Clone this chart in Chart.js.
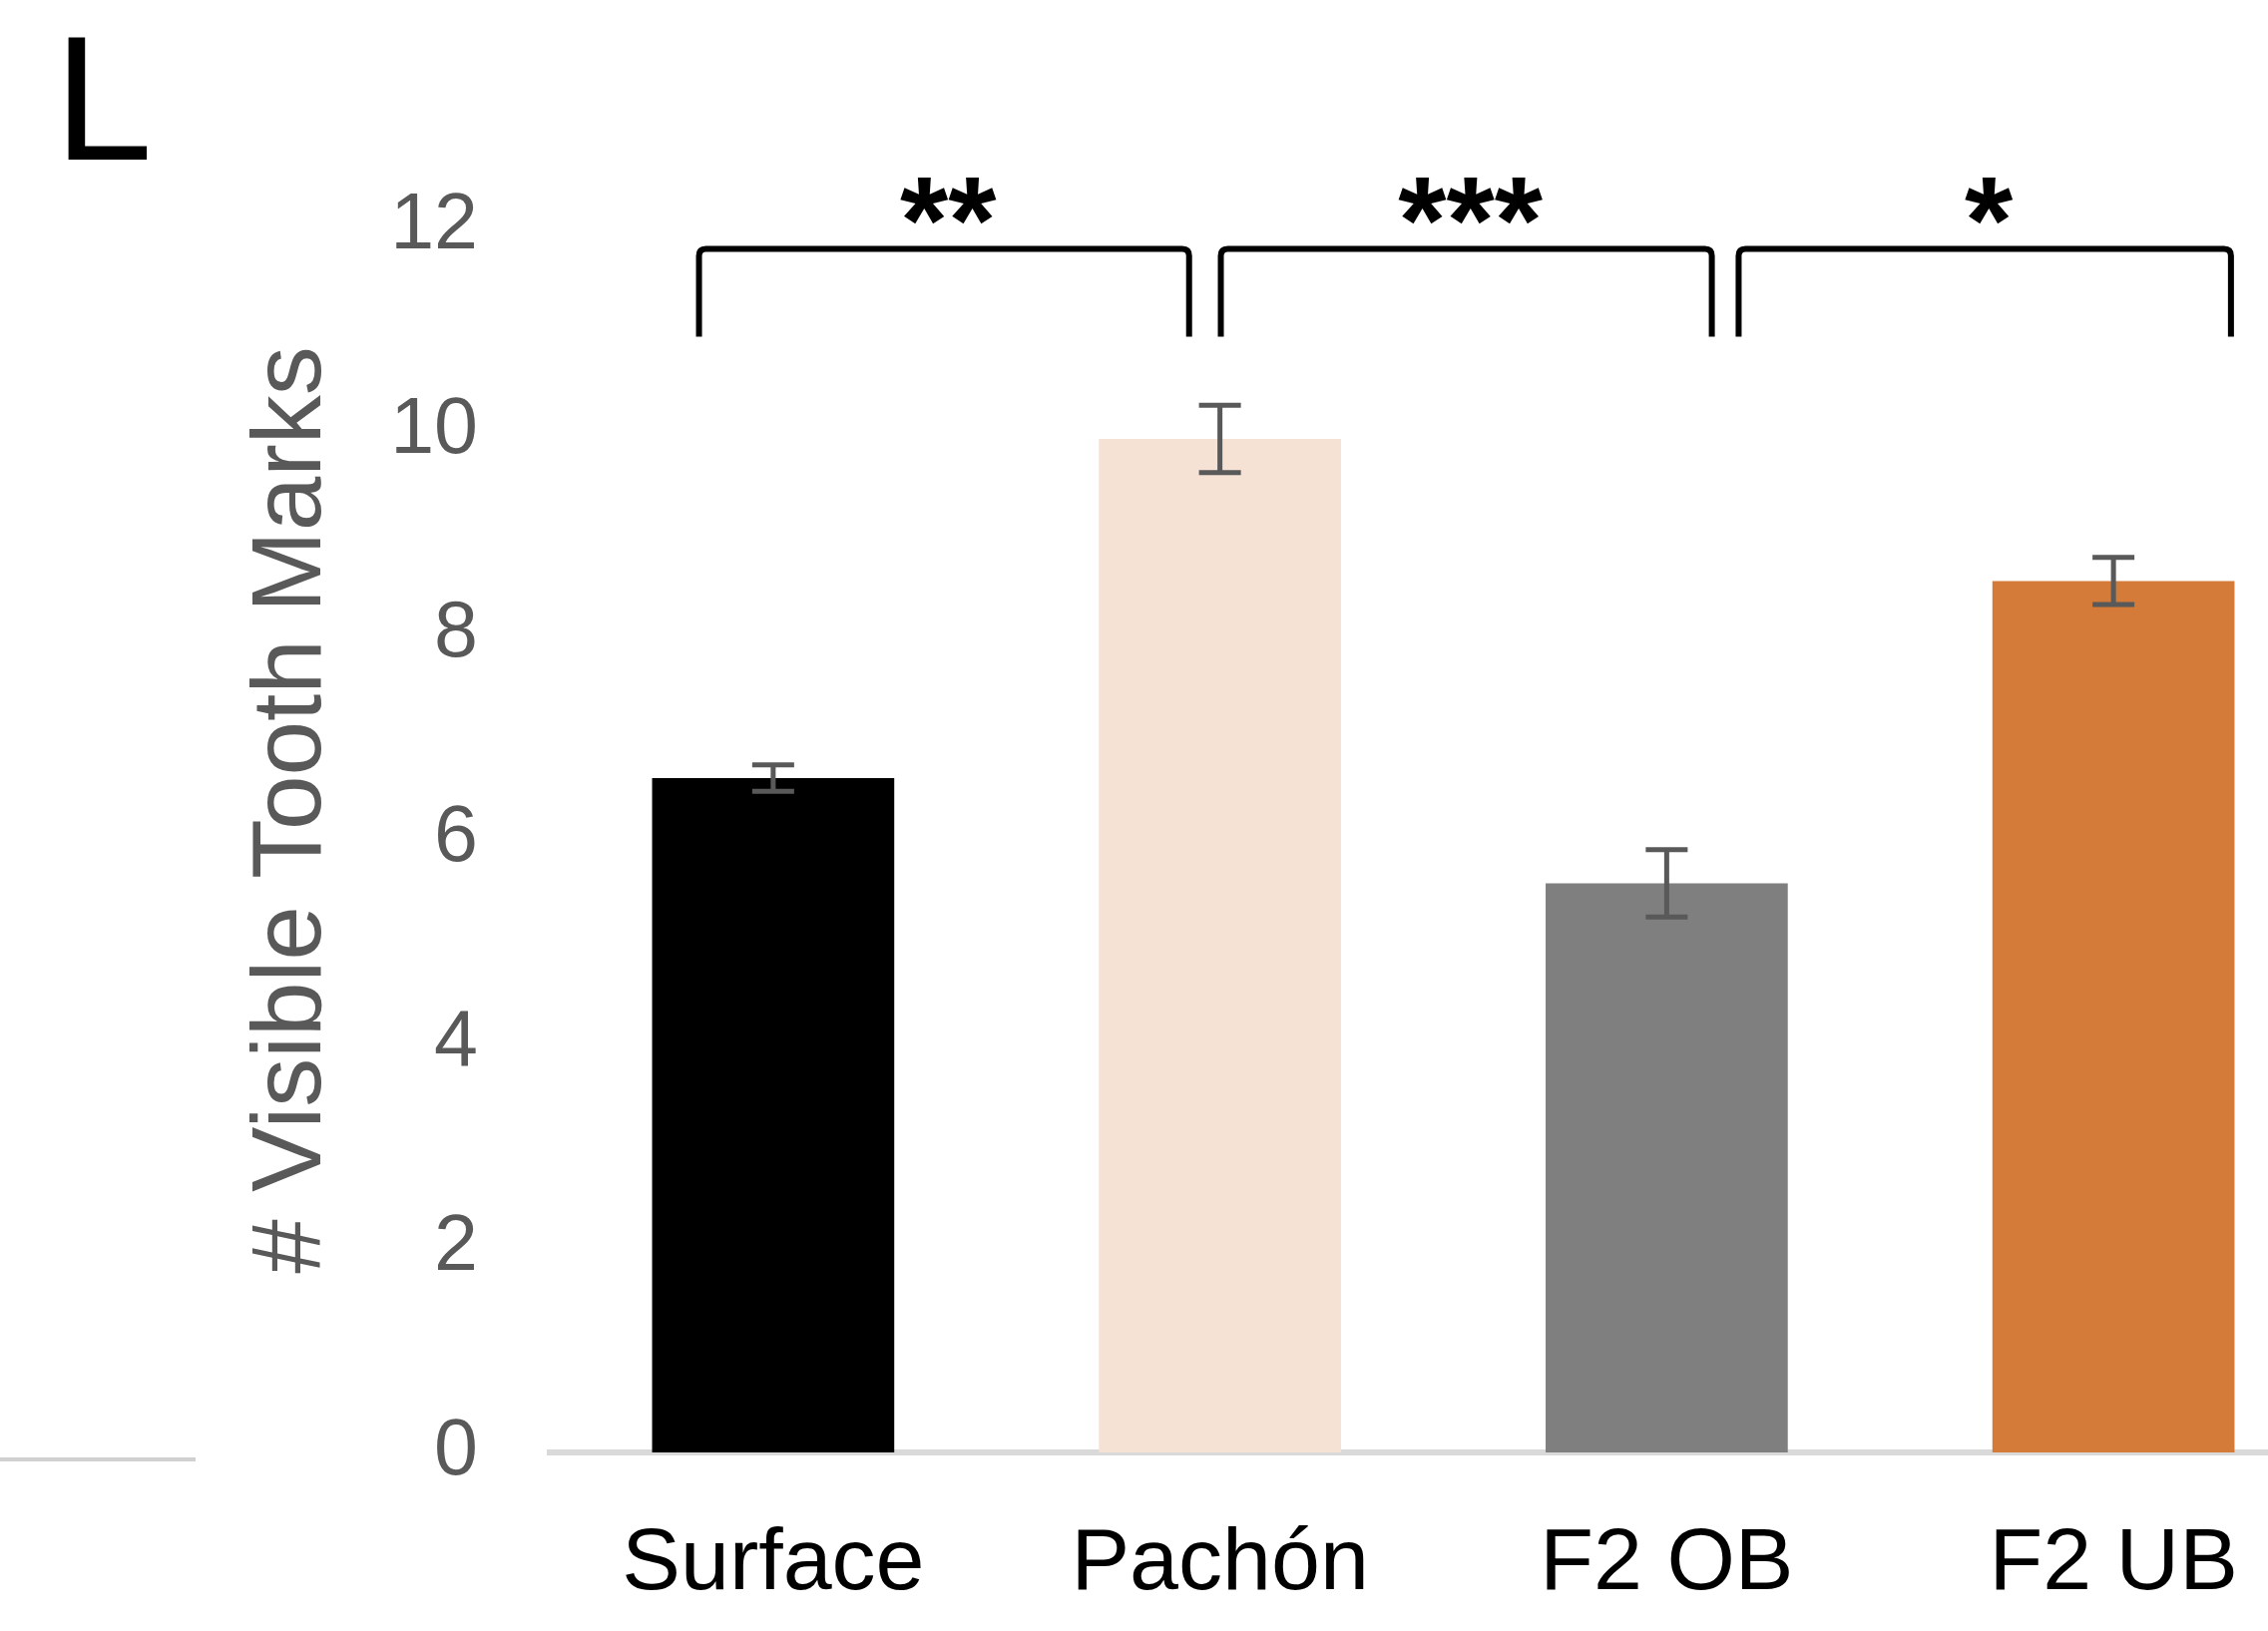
<!DOCTYPE html>
<html>
<head>
<meta charset="utf-8">
<title>Visible Tooth Marks</title>
<script src="https://cdn.jsdelivr.net/npm/chart.js@4.4.1/dist/chart.umd.min.js"></script>
<style>
  html, body { margin: 0; padding: 0; background: #fff; overflow: hidden; }
  #wrap { width: 2345px; height: 1635px; }
</style>
</head>
<body>
<div id="wrap"><canvas id="teeth" width="2345" height="1635"></canvas></div>
<script>
// values
const categories = ['Surface', 'Pachón', 'F2 OB', 'F2 UB'];
const meanMarks = [6.6, 9.92, 5.57, 8.53];
const semMarks = [0.13, 0.33, 0.33, 0.23];
const barColors = ['#000000', '#f5e2d5', '#7f7f7f', '#d57b3a'];
const yTicks = [0, 2, 4, 6, 8, 10, 12];
const comparisons = [[0, 1], [1, 2], [2, 3]];
const sigLabels = ['**', '***', '*'];

const FONT = '"Liberation Sans", Arial, sans-serif';
const GREY_TEXT = '#595959';

// where the brackets sit, in category units relative to the compared bars
const bracketStyle = {
  offsets: [[-0.166, -0.069], [0.002, 0.101], [0.161, 0.263]],
  top: 11.78,
  foot: 10.92,
  starY: 12.25,
  width: 6
};

// error bars, brackets, title, panel letter
const extras = {
  id: 'extras',
  afterDatasetsDraw(chart) {
    const ctx = chart.ctx;
    const y = chart.scales.y;
    const meta = chart.getDatasetMeta(0);
    ctx.save();
    ctx.strokeStyle = GREY_TEXT;
    ctx.lineWidth = 5;
    meta.data.forEach((bar, i) => {
      const hi = y.getPixelForValue(meanMarks[i] + semMarks[i]);
      const lo = y.getPixelForValue(meanMarks[i] - semMarks[i]);
      ctx.beginPath();
      ctx.moveTo(bar.x, hi); ctx.lineTo(bar.x, lo);
      ctx.moveTo(bar.x - 21, hi); ctx.lineTo(bar.x + 21, hi);
      ctx.moveTo(bar.x - 21, lo); ctx.lineTo(bar.x + 21, lo);
      ctx.stroke();
    });
    ctx.restore();
  },
  afterDraw(chart) {
    const ctx = chart.ctx;
    const x = chart.scales.x;
    const y = chart.scales.y;
    ctx.save();

    // significance brackets
    ctx.strokeStyle = '#000';
    ctx.lineWidth = bracketStyle.width;
    ctx.lineJoin = 'round';
    const yTop = y.getPixelForValue(bracketStyle.top);
    const yFoot = y.getPixelForValue(bracketStyle.foot);
    const yStar = y.getPixelForValue(bracketStyle.starY);
    comparisons.forEach(([a, b], k) => {
      const off = bracketStyle.offsets[k];
      const x1 = x.getPixelForValue(a + off[0]);
      const x2 = x.getPixelForValue(b + off[1]);
      const r = 7;
      ctx.beginPath();
      ctx.moveTo(x1, yFoot);
      ctx.lineTo(x1, yTop + r);
      ctx.quadraticCurveTo(x1, yTop, x1 + r, yTop);
      ctx.lineTo(x2 - r, yTop);
      ctx.quadraticCurveTo(x2, yTop, x2, yTop + r);
      ctx.lineTo(x2, yFoot);
      ctx.stroke();

      ctx.fillStyle = '#000';
      ctx.font = 'bold 124px ' + FONT;
      ctx.textAlign = 'center';
      ctx.textBaseline = 'alphabetic';
      const m = ctx.measureText(sigLabels[k]);
      const inkMid = (m.actualBoundingBoxAscent - m.actualBoundingBoxDescent) / 2;
      ctx.fillText(sigLabels[k], (x1 + x2) / 2 + 4, yStar + inkMid);
    });

    // y axis title
    ctx.fillStyle = GREY_TEXT;
    ctx.font = '98px ' + FONT;
    ctx.textAlign = 'center';
    ctx.textBaseline = 'middle';
    ctx.translate(294, 812);
    ctx.rotate(-Math.PI / 2);
    ctx.fillText('# Visible Tooth Marks', 0, 0);
    ctx.setTransform(1, 0, 0, 1, 0, 0);

    // panel letter
    ctx.fillStyle = '#000';
    ctx.font = '178px ' + FONT;
    ctx.textAlign = 'left';
    ctx.textBaseline = 'alphabetic';
    ctx.fillText('L', 54, 160);

    // edge of the neighbouring panel's axis
    ctx.strokeStyle = '#d0d0d0';
    ctx.lineWidth = 4;
    ctx.beginPath();
    ctx.moveTo(0, 1463);
    ctx.lineTo(196, 1463);
    ctx.stroke();
    ctx.restore();
  }
};

new Chart(document.getElementById('teeth').getContext('2d'), {
  type: 'bar',
  data: {
    labels: categories,
    datasets: [{
      data: meanMarks,
      backgroundColor: barColors,
      borderWidth: 0,
      barPercentage: 0.542,
      categoryPercentage: 1
    }]
  },
  options: {
    responsive: false,
    devicePixelRatio: 1,
    animation: false,
    events: [],
    layout: { padding: { left: 0, right: 3, top: 227, bottom: 0 } },
    plugins: {
      legend: { display: false },
      tooltip: { enabled: false }
    },
    scales: {
      x: {
        afterFit: (s) => { s.height = 179; },
        grid: { display: false, drawTicks: false },
        border: { display: true, color: '#d9d9d9', width: 6 },
        ticks: {
          color: '#000',
          padding: 60,
          font: { family: FONT, size: 88 }
        }
      },
      y: {
        min: 0,
        max: 12,
        afterFit: (s) => { s.width = 551; },
        afterBuildTicks: (s) => { s.ticks = yTicks.map(v => ({ value: v })); },
        grid: { display: false, drawTicks: false },
        border: { display: false },
        ticks: {
          color: GREY_TEXT,
          padding: 72,
          font: { family: FONT, size: 79 }
        }
      }
    }
  },
  plugins: [extras]
});
</script>
</body>
</html>
